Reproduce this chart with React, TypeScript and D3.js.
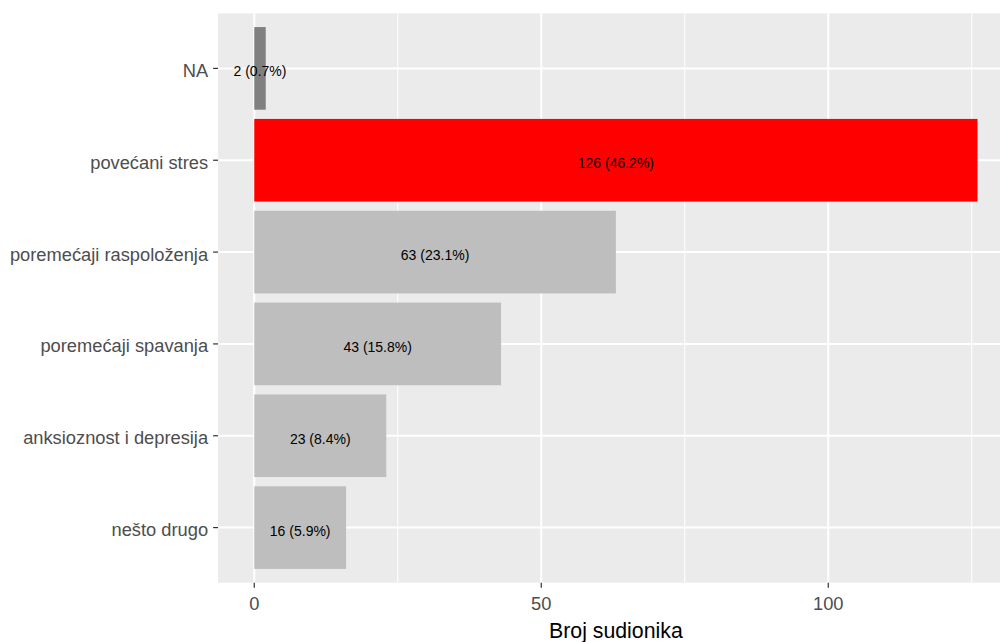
import React from "react";
import * as d3 from "d3";

const categories = ["NA", "povećani stres", "poremećaji raspoloženja", "poremećaji spavanja", "anksioznost i depresija", "nešto drugo"];
const counts = [2, 126, 63, 43, 23, 16];
const labels = ["2 (0.7%)", "126 (46.2%)", "63 (23.1%)", "43 (15.8%)", "23 (8.4%)", "16 (5.9%)"];
const barColors = ["#808080", "#FF0000", "#BEBEBE", "#BEBEBE", "#BEBEBE", "#BEBEBE"];
const xTicks = [0, 50, 100];
const xMinor = [25, 75, 125];

const W = 1000, H = 642;
const panel = { left: 218.1, top: 13.3, bottom: 582.7 };

export default function App() {
  const maxV = d3.max(counts) as number;
  const pad = maxV * 0.05;
  const pxPerUnit = 5.74;
  const right = panel.left + (maxV + 2 * pad) * pxPerUnit;
  const x = d3.scaleLinear().domain([-pad, maxV + pad]).range([panel.left, right]);
  const n = categories.length;
  const y = d3.scaleLinear().domain([0.4, n + 0.6]).range([panel.top, panel.bottom]);
  const font = "'Liberation Sans', Arial, sans-serif";
  return (
    <svg width={W} height={H} style={{ position: "absolute", left: 0, top: 0 }}>
      <rect x={0} y={0} width={W} height={H} fill="#fff" />
      <rect x={panel.left} y={panel.top} width={right - panel.left} height={panel.bottom - panel.top} fill="#EBEBEB" />
      {xMinor.map((t) => (
        <line key={"m" + t} x1={x(t)} x2={x(t)} y1={panel.top} y2={panel.bottom} stroke="#fff" strokeWidth={1} />
      ))}
      {xTicks.map((t) => (
        <line key={"M" + t} x1={x(t)} x2={x(t)} y1={panel.top} y2={panel.bottom} stroke="#fff" strokeWidth={2} />
      ))}
      {categories.map((c, i) => (
        <line key={"h" + c} x1={panel.left} x2={right} y1={y(i + 1)} y2={y(i + 1)} stroke="#fff" strokeWidth={2} />
      ))}
      {categories.map((c, i) => (
        <rect key={"b" + c} x={x(0)} y={y(i + 1 - 0.45)} width={x(counts[i]) - x(0)} height={y(i + 1.45) - y(i + 0.55)} fill={barColors[i]} />
      ))}
      {categories.map((c, i) => (
        <text key={"l" + c} x={x(counts[i] / 2)} y={y(i + 1) + 8} textAnchor="middle" fontFamily={font} fontSize={14} fill="#000">{labels[i]}</text>
      ))}
      {categories.map((c, i) => (
        <g key={"t" + c}>
          <line x1={panel.left - 5} x2={panel.left} y1={y(i + 1)} y2={y(i + 1)} stroke="#333" strokeWidth={1.2} />
          <text x={panel.left - 10} y={y(i + 1) + 8.5} textAnchor="end" fontFamily={font} fontSize={18.3} fill="#4D4D4D">{c}</text>
        </g>
      ))}
      {xTicks.map((t) => (
        <g key={"xt" + t}>
          <line x1={x(t)} x2={x(t)} y1={panel.bottom} y2={panel.bottom + 5} stroke="#333" strokeWidth={1.2} />
          <text x={x(t)} y={610} textAnchor="middle" fontFamily={font} fontSize={18.3} fill="#4D4D4D">{t}</text>
        </g>
      ))}
      <text x={(panel.left + right) / 2} y={637.5} textAnchor="middle" fontFamily={font} fontSize={21.3} fill="#000">Broj sudionika</text>
    </svg>
  );
}
